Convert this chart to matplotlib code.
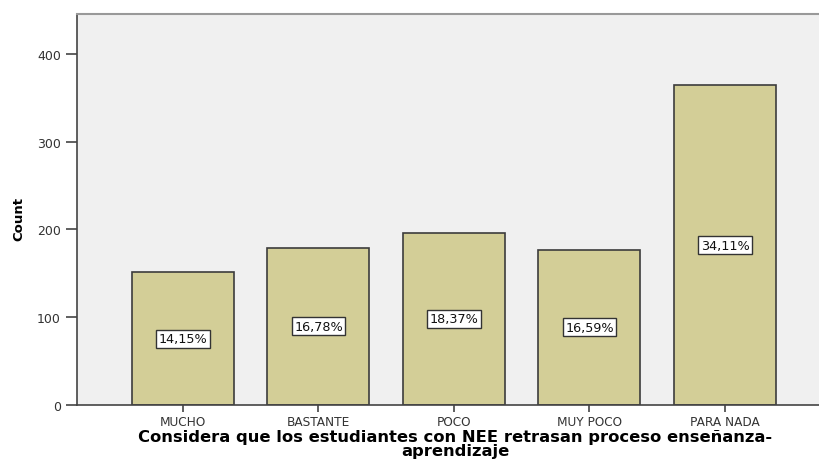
import matplotlib
matplotlib.use("Agg")
import matplotlib.pyplot as plt

# Datos: respuestas por categoría
categorias = ['MUCHO', 'BASTANTE', 'POCO', 'MUY POCO', 'PARA NADA']
conteos = [151, 179, 196, 177, 364]
porcentajes = ['14,15%', '16,78%', '18,37%', '16,59%', '34,11%']

plt.rcParams['font.family'] = ['DejaVu Sans']

fig = plt.figure(figsize=(8.19, 4.60), dpi=100)
ax = fig.add_axes([0.094, 0.1174, 0.906, 0.8496])
ax.set_facecolor('#f0f0f0')

x = range(len(categorias))
ax.bar(x, conteos, width=0.753, color='#d3ce97', edgecolor='#3c3c3c', linewidth=1.2, zorder=2)

# etiquetas de porcentaje en el centro de cada barra
for i, c in enumerate(conteos):
    ax.text(i, c / 2, porcentajes[i], ha='center', va='center', fontsize=9.2,
            color='#111111',
            bbox=dict(boxstyle='square,pad=0.2', fc='white', ec='#333333', lw=1.0),
            zorder=3)

ax.set_xlim(-0.782, 4.694)
ax.set_ylim(0, 445)
ax.set_yticks([0, 100, 200, 300, 400])
ax.set_xticks(list(x))
ax.set_xticklabels(categorias, fontsize=8.7, color='#333333')
ax.tick_params(axis='y', labelsize=9, labelcolor='#333333', length=8, width=1.2, color='#444444')
ax.tick_params(axis='x', length=5, width=1.2, color='#444444', pad=2)

ax.spines['right'].set_visible(False)
ax.spines['top'].set_color('#999999')
ax.spines['top'].set_linewidth(1.5)
ax.spines['left'].set_color('#444444')
ax.spines['left'].set_linewidth(1.2)
ax.spines['bottom'].set_color('#444444')
ax.spines['bottom'].set_linewidth(1.2)

fig.text(0.023, 0.523, 'Count', rotation=90, ha='center', va='center',
         fontsize=9.5, fontweight='bold')
fig.text(0.556, 0.048, 'Considera que los estudiantes con NEE retrasan proceso enseñanza-',
         ha='center', va='center', fontsize=11.8, fontweight='bold')
fig.text(0.556, 0.018, 'aprendizaje',
         ha='center', va='center', fontsize=11.8, fontweight='bold')

fig.savefig('out.png', dpi=100)
